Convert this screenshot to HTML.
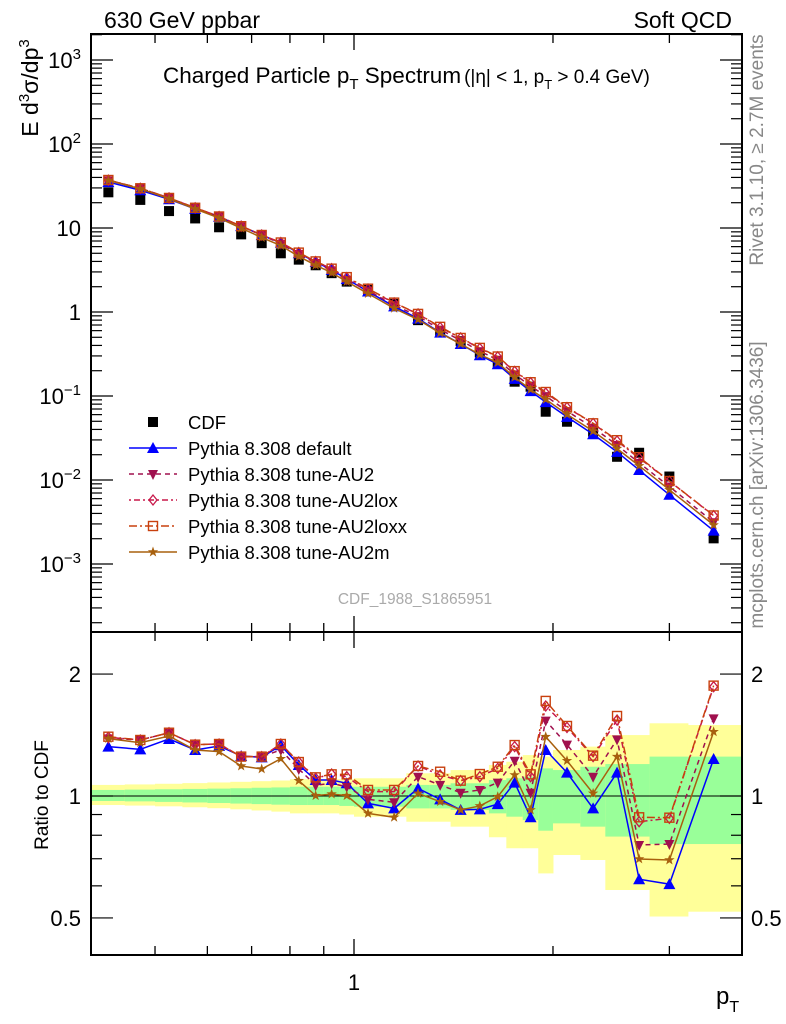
<!DOCTYPE html>
<html><head><meta charset="utf-8"><style>
body{margin:0;background:#fff}
svg{display:block;font-family:"Liberation Sans",sans-serif}
</style></head><body>
<svg id="c" width="786" height="1024" viewBox="0 0 786 1024">
<g id="bands"></g>
<g id="frames"></g>
<g id="series"></g>
<text x="104" y="28" font-size="23">630 GeV ppbar</text>
<text x="732" y="28" font-size="23" text-anchor="end">Soft QCD</text>
<text x="163" y="83" font-size="22.5">Charged Particle p<tspan font-size="15" dy="6">T</tspan><tspan dy="-6"> Spectrum</tspan><tspan font-size="19" dx="3">(|η| &lt; 1, p</tspan><tspan font-size="13" dy="6">T</tspan><tspan font-size="19" dy="-6"> &gt; 0.4 GeV)</tspan></text>
<text transform="translate(38,88) rotate(-90)" font-size="23" text-anchor="middle">E d<tspan font-size="15" dy="-9">3</tspan><tspan dy="9">σ/dp</tspan><tspan font-size="15" dy="-9">3</tspan></text>
<text transform="translate(763,150) rotate(-90)" font-size="19" fill="#888" text-anchor="middle">Rivet 3.1.10, ≥ 2.7M events</text>
<text transform="translate(763,485) rotate(-90)" font-size="19" fill="#888" text-anchor="middle">mcplots.cern.ch [arXiv:1306.3436]</text>
<text x="415" y="604" font-size="15.5" fill="#aaa" text-anchor="middle">CDF_1988_S1865951</text>
<text transform="translate(48,795) rotate(-90)" font-size="19" text-anchor="middle">Ratio to CDF</text>
<text x="716" y="1004" font-size="24">p<tspan font-size="16" dy="8">T</tspan></text>
<g id="legend"></g>
</svg>
<script>
const pt=[0.425,0.475,0.525,0.575,0.625,0.675,0.725,0.775,0.825,0.875,0.925,0.975,1.05,1.15,1.25,1.35,1.45,1.55,1.65,1.75,1.85,1.95,2.1,2.3,2.5,2.7,3.0,3.5];
const binEdges=[0.4,0.45,0.5,0.55,0.6,0.65,0.7,0.75,0.8,0.85,0.9,0.95,1.0,1.1,1.2,1.3,1.4,1.5,1.6,1.7,1.8,1.9,2.0,2.2,2.4,2.6,2.8,3.2,3.85];
const cdf=[26.6,21.6,15.9,13.0,10.2,8.4,6.6,5.0,4.2,3.6,2.9,2.3,1.83,1.25,0.80,0.58,0.45,0.33,0.25,0.148,0.129,0.065,0.0494,0.0376,0.0189,0.0211,0.0110,0.00202];
const rDefault=[1.324,1.304,1.383,1.299,1.329,1.255,1.246,1.334,1.193,1.095,1.095,1.075,0.959,0.932,1.044,0.981,0.924,0.927,0.955,1.079,0.886,1.299,1.142,0.932,1.142,0.623,0.606,1.234];
const rAU2=[1.388,1.375,1.433,1.339,1.344,1.251,1.251,1.299,1.166,1.063,1.075,1.054,0.981,0.965,1.116,1.065,1.019,1.035,1.079,1.222,1.019,1.535,1.339,1.116,1.380,0.757,0.761,1.555];
const rAU2lox=[1.396,1.375,1.433,1.339,1.344,1.251,1.251,1.344,1.213,1.106,1.133,1.116,1.025,1.025,1.186,1.127,1.091,1.116,1.170,1.324,1.116,1.668,1.477,1.251,1.540,0.864,0.881,1.862];
const rAU2loxx=[1.401,1.375,1.433,1.339,1.344,1.251,1.251,1.344,1.213,1.112,1.131,1.131,1.035,1.035,1.186,1.148,1.091,1.133,1.181,1.336,1.131,1.717,1.489,1.258,1.576,0.886,0.884,1.873];
const rAU2m=[1.386,1.354,1.406,1.299,1.287,1.186,1.166,1.236,1.091,1.002,1.011,1.002,0.906,0.886,1.015,0.968,0.924,0.945,0.996,1.127,0.924,1.401,1.222,1.015,1.251,0.699,0.695,1.441];
const yellowTop=[1.065,1.068,1.072,1.076,1.080,1.084,1.088,1.092,1.100,1.100,1.100,1.100,1.106,1.106,1.138,1.138,1.159,1.159,1.193,1.215,1.262,1.251,1.299,1.324,1.414,1.414,1.512,1.497];
const yellowBot=[0.950,0.947,0.943,0.938,0.933,0.927,0.921,0.915,0.906,0.906,0.906,0.900,0.889,0.889,0.864,0.864,0.840,0.840,0.791,0.743,0.743,0.644,0.715,0.695,0.586,0.586,0.504,0.518];
const greenTop=[1.035,1.037,1.039,1.041,1.043,1.045,1.048,1.050,1.054,1.054,1.054,1.054,1.054,1.054,1.065,1.065,1.075,1.075,1.095,1.106,1.116,1.170,1.159,1.181,1.199,1.199,1.251,1.251];
const greenBot=[0.972,0.970,0.967,0.964,0.961,0.958,0.955,0.952,0.950,0.950,0.950,0.945,0.941,0.941,0.932,0.932,0.924,0.924,0.906,0.889,0.872,0.821,0.856,0.840,0.794,0.794,0.761,0.761];
const mainTickExp=[3,2,1,0,-1,-2,-3];
const ratioTicks=["0.5","1","2"];

const NS="http://www.w3.org/2000/svg";
const L=91,R=742,T=34,MB=632,RB=955;
const X=v=>354+661*Math.log10(v);
const Y=v=>312-84*Math.log10(v);
const RY=v=>796-405*Math.log10(v);
function mk(tag,attrs,parent){const e=document.createElementNS(NS,tag);for(const k in attrs)e.setAttribute(k,attrs[k]);parent.appendChild(e);return e;}
const bands=document.getElementById('bands'),frames=document.getElementById('frames'),series=document.getElementById('series'),legend=document.getElementById('legend');

for(let i=0;i<pt.length;i++){
  const x0=X(binEdges[i]),x1=Math.min(X(binEdges[i+1]),R);
  const y=mk('rect',{x:x0,y:RY(yellowTop[i]),width:x1-x0+0.5,height:RY(yellowBot[i])-RY(yellowTop[i]),fill:'#ffff99'},bands);
  
  
  const g=mk('rect',{x:x0,y:RY(greenTop[i]),width:x1-x0+0.5,height:RY(greenBot[i])-RY(greenTop[i]),fill:'#99ff99'},bands);
  
  
}
const ul=mk('line',{x1:L,x2:R,y1:RY(1),y2:RY(1),stroke:'#000','stroke-width':1},frames);



[[T,MB],[MB,RB]].forEach(([a,b],k)=>{
  const r=mk('rect',{x:L,y:a,width:R-L,height:b-a,fill:'none',stroke:'#000','stroke-width':2},frames);
  
  
});
const xt=[0.4,0.5,0.6,0.7,0.8,0.9,1,2,3];
xt.forEach(v=>{
  const x=X(v);if(x<L+1)return;const maj=(v===1);
  [[T,1],[MB,-1],[MB,1],[RB,-1]].forEach(([y0,d])=>{
    mk('line',{x1:x,x2:x,y1:y0,y2:y0+d*(maj?16:9),stroke:'#000','stroke-width':1.3},frames);
  });
});
const xl=mk('text',{x:X(1),y:RB+35,'font-size':22,'text-anchor':'middle'},frames);
xl.textContent='1';


for(let e=-4;e<=3;e++){
  for(let m=1;m<10;m++){
    const v=m*Math.pow(10,e);const y=Y(v);if(y<T||y>MB)continue;
    const len=m===1?22:11;
    mk('line',{x1:L,x2:L+len,y1:y,y2:y,stroke:'#000','stroke-width':1.2},frames);
    mk('line',{x1:R,x2:R-len,y1:y,y2:y,stroke:'#000','stroke-width':1.2},frames);
  }
}
mainTickExp.forEach(ex=>{
  const t=mk('text',{x:L-10,y:Y(Math.pow(10,ex))+8,'font-size':22,'text-anchor':'end'},frames);
  
  
  if(ex===0)t.textContent='1';
  else if(ex===1)t.textContent='10';
  else{
    t.appendChild(document.createTextNode('10'));
    const s=mk('tspan',{'font-size':15,dy:-9},t);
    s.textContent=ex<0?'−'+(-ex):String(ex);
  }
});
[0.5,0.6,0.7,0.8,0.9,1,2].forEach(v=>{
  const y=RY(v);const maj=(v===0.5||v===1||v===2);const len=maj?22:11;
  mk('line',{x1:L,x2:L+len,y1:y,y2:y,stroke:'#000','stroke-width':1.2},frames);
  mk('line',{x1:R,x2:R-len,y1:y,y2:y,stroke:'#000','stroke-width':1.2},frames);
});
ratioTicks.forEach(lab=>{
  const v=parseFloat(lab);
  const t=mk('text',{x:L-10,y:RY(v)+8,'font-size':22,'text-anchor':'end'},frames);
  t.textContent=lab;
  
  
  const t2=mk('text',{x:R+9,y:RY(v)+8,'font-size':22},frames);
  t2.textContent=lab;
  
  
});

function marker(type,x,y,color,parent){
  let e;
  if(type==='sq')e=mk('rect',{x:x-5,y:y-5,width:10,height:10,fill:color},parent);
  else if(type==='tri')e=mk('polygon',{points:`${x},${y-6} ${x-6},${y+5} ${x+6},${y+5}`,fill:color},parent);
  else if(type==='itri')e=mk('polygon',{points:`${x},${y+6} ${x-5},${y-4} ${x+5},${y-4}`,fill:color},parent);
  else if(type==='dia')e=mk('polygon',{points:`${x},${y-5} ${x+4},${y} ${x},${y+5} ${x-4},${y}`,fill:'none',stroke:color,'stroke-width':1.3},parent);
  else if(type==='osq')e=mk('rect',{x:x-4.5,y:y-4.5,width:9,height:9,fill:'none',stroke:color,'stroke-width':1.4},parent);
  else if(type==='star'){let p='';for(let k=0;k<10;k++){const r=k%2?2.2:5.5,a=-Math.PI/2+k*Math.PI/5;p+=(x+r*Math.cos(a))+','+(y+r*Math.sin(a))+' ';}e=mk('polygon',{points:p,fill:color},parent);}
  return e;
}
const mcSeries=[
 {name:'Pythia 8.308 default',key:'default',r:rDefault,color:'#0000ff',dash:'',m:'tri'},
 {name:'Pythia 8.308 tune-AU2',key:'au2',r:rAU2,color:'#a0104e',dash:'5,4',m:'itri'},
 {name:'Pythia 8.308 tune-AU2lox',key:'au2lox',r:rAU2lox,color:'#c8184a',dash:'2,3,6,3',m:'dia'},
 {name:'Pythia 8.308 tune-AU2loxx',key:'au2loxx',r:rAU2loxx,color:'#c8400e',dash:'8,3,2,3',m:'osq'},
 {name:'Pythia 8.308 tune-AU2m',key:'au2m',r:rAU2m,color:'#a8600e',dash:'',m:'star'}
];
cdf.forEach((v,i)=>{
  const e=marker('sq',X(pt[i]),Y(v),'#000',series);
  
  
});
mcSeries.forEach(s=>{
  const g=mk('g',{},series);
  
  
  const mainPts=pt.map((p,i)=>X(p)+','+Y(cdf[i]*s.r[i])).join(' ');
  const ratioPts=pt.map((p,i)=>X(p)+','+RY(s.r[i])).join(' ');
  const l1=mk('polyline',{points:mainPts,fill:'none',stroke:s.color,'stroke-width':1.5,'stroke-dasharray':s.dash},g);
  
  
  const l2=mk('polyline',{points:ratioPts,fill:'none',stroke:s.color,'stroke-width':1.5,'stroke-dasharray':s.dash},g);
  
  
  pt.forEach((p,i)=>{
    const a=marker(s.m,X(p),Y(cdf[i]*s.r[i]),s.color,g);
    
    
    const b=marker(s.m,X(p),RY(s.r[i]),s.color,g);
    
    
  });
});
const lg0=marker('sq',153,422,'#000',legend);


const lt0=mk('text',{x:188,y:429,'font-size':18.5},legend);
lt0.textContent='CDF';


mcSeries.forEach((s,k)=>{
  const y=448+k*26;
  const ln=mk('line',{x1:129,x2:177,y1:y,y2:y,stroke:s.color,'stroke-width':1.5,'stroke-dasharray':s.dash},legend);
  
  
  const mm=marker(s.m,153,y,s.color,legend);
  
  
  const t=mk('text',{x:188,y:y+7,'font-size':18.5},legend);
  t.textContent=s.name;
  
  
});
</script>
</body></html>
